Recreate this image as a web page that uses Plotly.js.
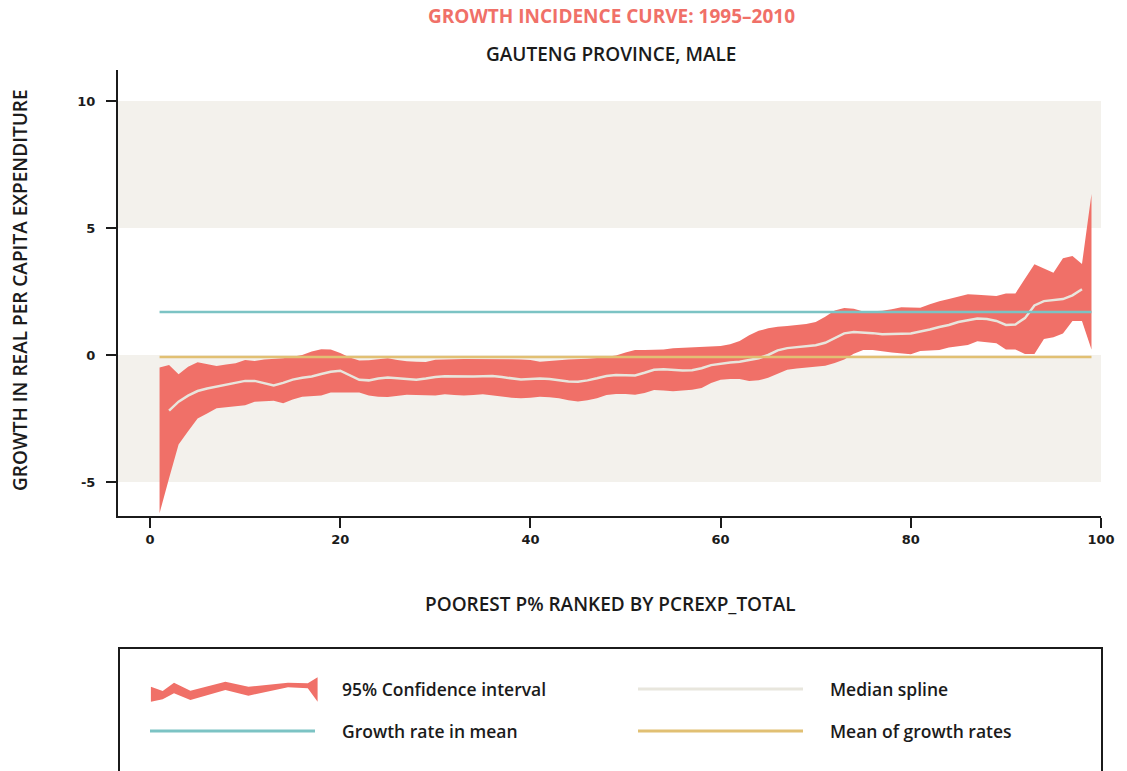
<!DOCTYPE html>
<html>
<head>
<meta charset="utf-8">
<script src="https://cdn.plot.ly/plotly-3.0.1.min.js"></script>
<style>html,body{margin:0;padding:0;background:#fff;}#chart{width:1127px;height:771px;}</style>
</head>
<body>
<div id="chart"></div>
<script>
// Percentiles (poorest p%)
const percentiles = [1,2,3,4,5,6,7,8,9,10,11,12,13,14,15,16,17,18,19,20,21,22,23,24,25,26,27,28,29,30,31,32,33,34,35,36,37,38,39,40,41,42,43,44,45,46,47,48,49,50,51,52,53,54,55,56,57,58,59,60,61,62,63,64,65,66,67,68,69,70,71,72,73,74,75,76,77,78,79,80,81,82,83,84,85,86,87,88,89,90,91,92,93,94,95,96,97,98,99];
// 95% confidence interval, upper bound
const ciUpper = [-0.49,-0.39,-0.76,-0.46,-0.29,-0.36,-0.43,-0.38,-0.33,-0.2,-0.24,-0.18,-0.16,-0.13,-0.07,0.0,0.14,0.23,0.22,0.08,-0.1,-0.22,-0.21,-0.16,-0.13,-0.2,-0.25,-0.27,-0.28,-0.19,-0.17,-0.17,-0.16,-0.16,-0.15,-0.15,-0.16,-0.17,-0.18,-0.2,-0.27,-0.25,-0.21,-0.18,-0.17,-0.15,-0.12,-0.07,-0.02,0.1,0.2,0.2,0.21,0.22,0.26,0.28,0.3,0.31,0.33,0.35,0.42,0.55,0.78,0.95,1.05,1.11,1.14,1.17,1.22,1.3,1.5,1.75,1.85,1.82,1.71,1.72,1.74,1.8,1.88,1.87,1.86,2.0,2.12,2.2,2.3,2.39,2.37,2.34,2.32,2.42,2.42,3.0,3.57,3.4,3.24,3.81,3.9,3.58,6.34];
// 95% confidence interval, lower bound
const ciLower = [-6.23,-4.85,-3.52,-3.0,-2.5,-2.3,-2.1,-2.05,-2.02,-1.98,-1.84,-1.82,-1.8,-1.9,-1.75,-1.64,-1.62,-1.6,-1.48,-1.47,-1.48,-1.48,-1.6,-1.64,-1.65,-1.62,-1.57,-1.58,-1.6,-1.6,-1.55,-1.58,-1.6,-1.58,-1.55,-1.58,-1.64,-1.68,-1.7,-1.68,-1.64,-1.66,-1.7,-1.78,-1.83,-1.78,-1.7,-1.58,-1.54,-1.54,-1.57,-1.5,-1.38,-1.4,-1.43,-1.4,-1.37,-1.3,-1.1,-0.98,-0.95,-0.95,-1.02,-1.0,-0.9,-0.75,-0.58,-0.53,-0.49,-0.45,-0.42,-0.32,-0.18,0.05,0.2,0.2,0.15,0.1,0.06,0.03,0.16,0.18,0.2,0.29,0.34,0.39,0.54,0.5,0.46,0.22,0.22,0.04,0.04,0.63,0.7,0.85,1.34,1.34,0.22];
// Median spline
const medianX = [2,3,4,5,6,7,8,9,10,11,12,13,14,15,16,17,18,19,20,21,22,23,24,25,26,27,28,29,30,31,32,33,34,35,36,37,38,39,40,41,42,43,44,45,46,47,48,49,50,51,52,53,54,55,56,57,58,59,60,61,62,63,64,65,66,67,68,69,70,71,72,73,74,75,76,77,78,79,80,81,82,83,84,85,86,87,88,89,90,91,92,93,94,95,96,97,98];
const medianY = [-2.19,-1.84,-1.6,-1.42,-1.32,-1.24,-1.15,-1.07,-1.02,-1.02,-1.1,-1.2,-1.1,-0.97,-0.9,-0.85,-0.75,-0.66,-0.62,-0.8,-0.98,-1.0,-0.93,-0.89,-0.92,-0.96,-0.98,-0.93,-0.87,-0.84,-0.85,-0.86,-0.85,-0.84,-0.83,-0.87,-0.93,-0.97,-0.95,-0.93,-0.95,-1.0,-1.04,-1.05,-1.0,-0.92,-0.83,-0.79,-0.79,-0.81,-0.7,-0.58,-0.56,-0.58,-0.61,-0.6,-0.52,-0.4,-0.34,-0.3,-0.27,-0.2,-0.13,0.0,0.18,0.27,0.31,0.33,0.38,0.48,0.65,0.85,0.9,0.89,0.86,0.82,0.82,0.84,0.85,0.92,1.0,1.1,1.18,1.3,1.38,1.44,1.42,1.34,1.18,1.2,1.45,1.95,2.12,2.16,2.2,2.35,2.59];
// Reference lines
const growthRateInMean = 1.69;
const meanOfGrowthRates = -0.08;
const refLineX = [1, 99];
// Ticks
const xTicks = [0,20,40,60,80,100];
const yTicks = [-5,0,5,10];
const yTickLabels = ['-5','0','5','10'];
// Texts
const titleText = 'GROWTH INCIDENCE CURVE: 1995–2010';
const subtitleText = 'GAUTENG PROVINCE, MALE';
const xTitle = 'POOREST P% RANKED BY PCREXP_TOTAL';
const yTitle = 'GROWTH IN REAL PER CAPITA EXPENDITURE';
const legendLabels = ['95% Confidence interval','Median spline','Growth rate in mean','Mean of growth rates'];

const RED = '#f07068', TEAL = '#7cc3c4', GOLD = '#e1c073', MED = '#e8e6dd', BAND = '#f3f1ec', INK = '#1b1b1b';
const FONT = '"Open Sans", Lato, sans-serif';
const TICKFONT = '"DejaVu Sans", sans-serif';

// plot geometry (pixels) to convert legend positions to paper coords
const L = 118, R = 26, T = 70, B = 255, W = 1127, H = 771;
const pw = W - L - R, ph = H - T - B;
const px = x => (x - L) / pw;
const py = y => (H - B - y) / ph;

const polyX = percentiles.concat(percentiles.slice().reverse());
const polyY = ciUpper.concat(ciLower.slice().reverse());

const traces = [
  {x: polyX, y: polyY, type: 'scatter', mode: 'lines', fill: 'toself', fillcolor: RED, line: {width: 0, color: RED}, hoverinfo: 'skip'},
  {x: medianX, y: medianY, type: 'scatter', mode: 'lines', line: {color: MED, width: 2.5}},
  {x: refLineX, y: [growthRateInMean, growthRateInMean], type: 'scatter', mode: 'lines', line: {color: TEAL, width: 2.5}},
  {x: refLineX, y: [meanOfGrowthRates, meanOfGrowthRates], type: 'scatter', mode: 'lines', line: {color: GOLD, width: 2.5}}
];

// legend symbol for CI (jagged band)
const ciSym = [[150.9,686.7],[162.7,691],[174,682.7],[190.4,690.7],[225.4,681.7],[248.4,686.7],[288,682.7],[307.8,683.3],[317.6,677.3],[317.6,701.7],[307.8,688.3],[288,687.3],[248.4,695.7],[225.4,690],[190.4,700],[174,693.3],[162.7,699.3],[150.9,701.7]];
const ciPath = 'M' + ciSym.map(p => px(p[0]).toFixed(5) + ',' + py(p[1]).toFixed(5)).join(' L') + ' Z';

const shapes = [
  {type: 'rect', xref: 'paper', yref: 'y', x0: 0, x1: 1, y0: -5, y1: 0, fillcolor: BAND, line: {width: 0}, layer: 'below'},
  {type: 'rect', xref: 'paper', yref: 'y', x0: 0, x1: 1, y0: 5, y1: 10, fillcolor: BAND, line: {width: 0}, layer: 'below'},
  // legend box
  {type: 'rect', xref: 'paper', yref: 'paper', x0: px(119), x1: px(1102), y0: py(648), y1: py(790), line: {color: INK, width: 2}, fillcolor: 'rgba(0,0,0,0)'},
  {type: 'path', xref: 'paper', yref: 'paper', path: ciPath, fillcolor: RED, line: {width: 0}},
  {type: 'line', xref: 'paper', yref: 'paper', x0: px(638), x1: px(803), y0: py(689), y1: py(689), line: {color: MED, width: 3}},
  {type: 'line', xref: 'paper', yref: 'paper', x0: px(150), x1: px(315), y0: py(731), y1: py(731), line: {color: TEAL, width: 3}},
  {type: 'line', xref: 'paper', yref: 'paper', x0: px(638), x1: px(803), y0: py(731), y1: py(731), line: {color: GOLD, width: 3}}
];

const legPos = [[340,689],[828,689],[340,731],[828,731]];
const annotations = [
  {text: '<b>' + titleText + '</b>', xref: 'paper', yref: 'paper', x: px(611), y: py(16), showarrow: false, xanchor: 'center', yanchor: 'middle', font: {family: FONT, size: 19, color: RED}},
  {text: subtitleText, xref: 'paper', yref: 'paper', x: px(611), y: py(54), showarrow: false, xanchor: 'center', yanchor: 'middle', font: {family: FONT, size: 19, color: INK, weight: 600}},
  {text: xTitle, xref: 'paper', yref: 'paper', x: px(610), y: py(604), showarrow: false, xanchor: 'center', yanchor: 'middle', font: {family: FONT, size: 19, color: INK, weight: 600}},
  {text: yTitle, xref: 'paper', yref: 'paper', x: px(20), y: py(290), showarrow: false, textangle: -90, xanchor: 'center', yanchor: 'middle', font: {family: FONT, size: 19, color: INK, weight: 600}}
].concat(legendLabels.map((t, i) => ({text: t, xref: 'paper', yref: 'paper', x: px(legPos[i][0]), y: py(legPos[i][1]), showarrow: false, xanchor: 'left', yanchor: 'middle', font: {family: FONT, size: 17.5, color: INK, weight: 600}})));

const layout = {
  width: W, height: H,
  margin: {l: L, r: R, t: T, b: B, pad: 0},
  paper_bgcolor: '#fff', plot_bgcolor: '#fff',
  showlegend: false,
  font: {family: FONT, color: INK},
  xaxis: {range: [-3.37, 100], tickvals: xTicks, ticktext: xTicks.map(String), showgrid: false, zeroline: false, showline: true, linecolor: INK, linewidth: 2, ticks: 'outside', ticklen: 10, tickwidth: 2, tickcolor: INK, tickfont: {family: TICKFONT, size: 13, color: INK, weight: 'bold'}},
  yaxis: {range: [-6.34, 11.22], tickvals: yTicks, ticktext: yTickLabels, showgrid: false, zeroline: false, showline: true, linecolor: INK, linewidth: 2, ticks: 'outside', ticklen: 10, tickwidth: 2, tickcolor: INK, ticklabelstandoff: 8, tickfont: {family: TICKFONT, size: 13, color: INK, weight: 'bold'}},
  shapes: shapes,
  annotations: annotations
};

Plotly.newPlot('chart', traces, layout, {displayModeBar: false, staticPlot: true});
</script>
</body>
</html>
